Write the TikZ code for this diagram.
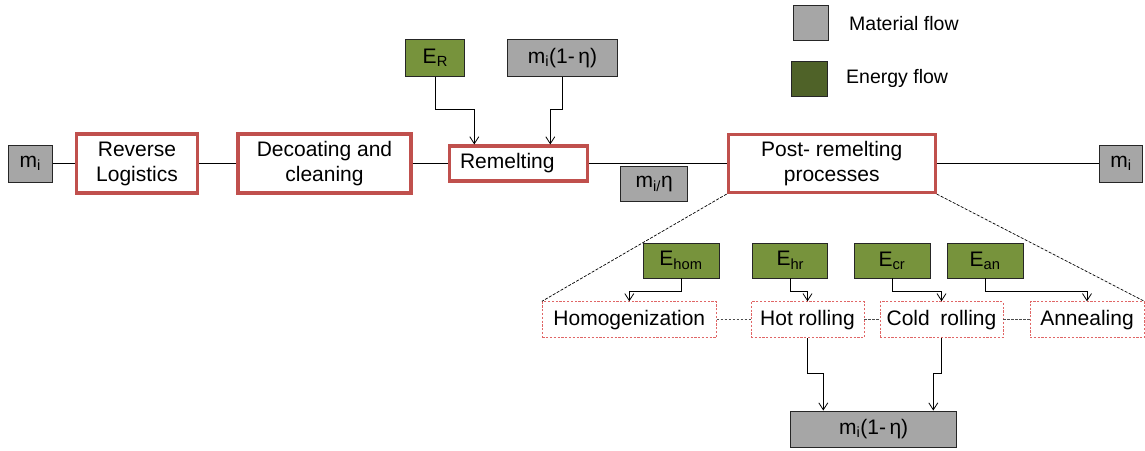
\documentclass[tikz,border=0pt]{standalone}
\usepackage{fontspec}
\setmainfont{Liberation Sans}
\usetikzlibrary{arrows.meta}
\definecolor{boxred}{HTML}{C0504D}
\definecolor{subred}{HTML}{E06666}
\definecolor{matgray}{HTML}{A6A6A6}
\definecolor{engreen}{HTML}{77933C}
\definecolor{legreen}{HTML}{4F6228}
\begin{document}
\begin{tikzpicture}[x=1pt,y=-1pt,
  font=\fontsize{21}{25}\selectfont,
  proc/.style={draw=boxred, line width=3.1pt, fill=white, inner sep=0pt, align=center},
  matbox/.style={draw=black!85, line width=0.9pt, fill=matgray, inner sep=0pt},
  enbox/.style={draw=black!85, line width=0.9pt, fill=engreen, inner sep=0pt},
  subbox/.style={draw=subred, dash pattern=on 2.2pt off 1.6pt, line width=0.8pt, fill=white, inner sep=0pt},
  arr/.style={-{Straight Barb[length=7pt,width=9pt]}, line width=0.8pt},
  link/.style={line width=0.8pt},
  dlink/.style={draw=black!70, dash pattern=on 2.5pt off 1.5pt, line width=0.8pt},
  zline/.style={dash pattern=on 3pt off 1.5pt, line width=0.7pt}
]
\useasboundingbox (0,0) rectangle (1145,450);

% legend
\node[matbox, minimum width=35pt, minimum height=35pt] (lmat) at (811,22.5) {};
\node[matbox, fill=legreen, minimum width=36pt, minimum height=35pt] (len) at (809.7,78.5) {};
\node[anchor=west, inner sep=0pt, font=\fontsize{19.5}{22}\selectfont] (lmt) at (849,24) {Material flow};
\node[anchor=west, inner sep=0pt, font=\fontsize{19.5}{22}\selectfont] (lent) at (846,78) {Energy flow};

% main chain
\node[matbox, minimum width=44pt, minimum height=37pt] (mL) at (30.3,163.5) {m\textsubscript{i}};
\node[proc, minimum width=121pt, minimum height=59pt] (rev) at (137,163.5) {Reverse\\Logistics};
\node[proc, minimum width=173pt, minimum height=59pt] (dec) at (324.5,163.5) {Decoating and\\cleaning};
\node[proc, minimum width=138pt, minimum height=35pt] (rem) at (518.3,163.5) {\hspace*{-22pt}Remelting};
\node[proc, minimum width=207pt, minimum height=58pt] (post) at (831.7,163.5) {Post- remelting\\processes};
\node[matbox, minimum width=43pt, minimum height=37pt] (mR) at (1121,163.5) {m\textsubscript{i}};
\node[matbox, minimum width=67pt, minimum height=35pt] (meta) at (654.2,184.3) {m\textsubscript{i/}η};

\node[enbox, minimum width=59pt, minimum height=37pt] (ER) at (435.3,58) {E\textsubscript{R}};
\node[matbox, minimum width=110pt, minimum height=37pt] (mt) at (562.5,58) {m\textsubscript{i}(1-\,η)};

\draw[link] (mL.east) -- (rev.west);
\draw[link] (rev.east) -- (dec.west);
\draw[link] (dec.east) -- (rem.west);
\draw[link] (rem.east) -- (post.west);
\draw[link] (post.east) -- (mR.west);

\draw[arr] (ER.south) -- ++(0,32.5) -| ([xshift=-44pt]rem.north);
\draw[arr] (mt.south) -- ++(0,32.5) -| ([xshift=32pt]rem.north);

% sub processes
\node[subbox, minimum width=174pt, minimum height=36pt] (hom) at (629.3,319.7) {Homogenization};
\node[subbox, minimum width=113pt, minimum height=36pt] (hot) at (807.5,319.7) {Hot rolling};
\node[subbox, minimum width=123pt, minimum height=36pt] (cold) at (941.5,319.7) {Cold\enspace rolling};
\node[subbox, minimum width=114pt, minimum height=36pt] (ann) at (1087,319.7) {Annealing};

\node[enbox, minimum width=76pt, minimum height=35pt] (Ehom) at (681,260.5) {E\textsubscript{hom}};
\node[enbox, minimum width=75pt, minimum height=35pt] (Ehr) at (790.3,260.5) {E\textsubscript{hr}};
\node[enbox, minimum width=76pt, minimum height=35pt] (Ecr) at (892,260.5) {E\textsubscript{cr}};
\node[enbox, minimum width=76pt, minimum height=35pt] (Ean) at (985,260.5) {E\textsubscript{an}};

\node[matbox, minimum width=166pt, minimum height=36pt] (mb) at (873.7,429) {m\textsubscript{i}(1-\,η)};

\draw[zline] (post.south west) -- (hom.north west);
\draw[zline] (post.south east) -- (ann.north east);

\draw[dlink] (hom.east) -- (hot.west);
\draw[dlink] (hot.east) -- (cold.west);
\draw[dlink] (cold.east) -- (ann.west);

\draw[arr] (Ehom.south) -- ++(0,12.5) -| (hom.north);
\draw[arr] (Ehr.south) -- ++(0,12.5) -| (hot.north);
\draw[arr] (Ecr.south) -- ++(0,12.5) -| (cold.north);
\draw[arr] (Ean.south) -- ++(0,12.5) -| (ann.north);

\draw[arr] (hot.south) -- ++(0,35.3) -| ([xshift=-50.4pt]mb.north);
\draw[arr] (cold.south) -- ++(0,35.3) -| ([xshift=59.6pt]mb.north);
\end{tikzpicture}
\end{document}
